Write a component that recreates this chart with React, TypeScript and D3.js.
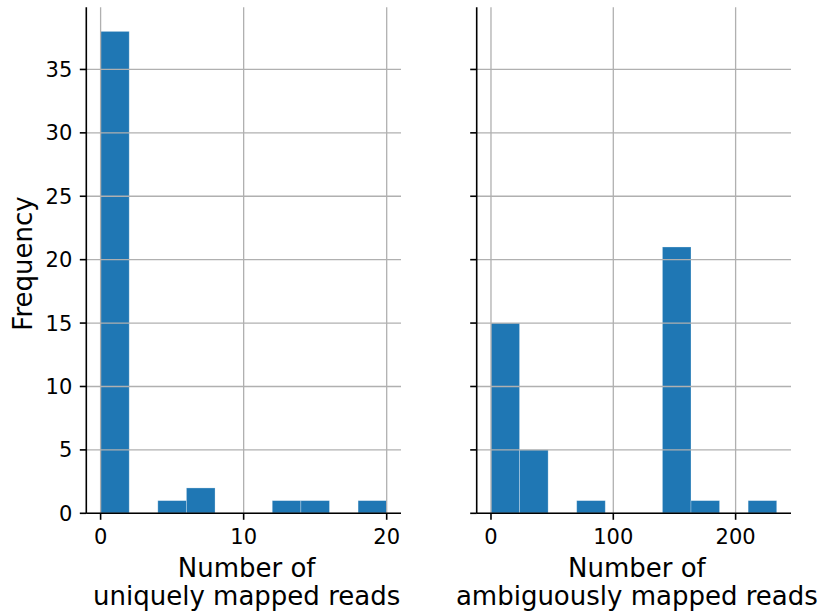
import React from "react";
import * as d3 from "d3";

// Histogram counts per bin (10 equal-width bins each)
const uniqueCounts = [38, 0, 1, 2, 0, 0, 1, 1, 0, 1];
const uniqueRange = [0, 20];
const ambiguousCounts = [15, 5, 0, 1, 0, 0, 21, 1, 0, 1];
const ambiguousRange = [0, 233.6];

const yTicks = [0, 5, 10, 15, 20, 25, 30, 35];
const uniqueTicks = [0, 10, 20];
const ambiguousTicks = [0, 100, 200];

const yLabel = "Frequency";
const uniqueLabel = ["Number of", "uniquely mapped reads"];
const ambiguousLabel = ["Number of", "ambiguously mapped reads"];

const W = 823;
const H = 616;
const TOP = 7.3;
const BOTTOM = 513.3;
const BAR = "#1f77b4";
const GRID = "#b0b0b0";
const FONT = "DejaVu Sans, sans-serif";
const TICK_FS = 21;
const LABEL_FS = 26;

// both panels share one frequency axis
const yMax = (d3.max([...uniqueCounts, ...ambiguousCounts]) as number) * 1.05;
const y = d3.scaleLinear().domain([0, yMax]).range([BOTTOM, TOP]);

type PanelProps = {
  x0: number;
  x1: number;
  counts: number[];
  range: number[];
  ticks: number[];
  label: string[];
  showYLabels: boolean;
};

function Panel({ x0, x1, counts, range, ticks, label, showYLabels }: PanelProps) {
  const span = range[1] - range[0];
  const pad = span * 0.05;
  const x = d3.scaleLinear().domain([range[0] - pad, range[1] + pad]).range([x0, x1]);
  const step = span / counts.length;
  const bins = counts.map((c, i) => ({
    lo: range[0] + i * step,
    hi: range[0] + (i + 1) * step,
    c,
  }));
  const cx = (x0 + x1) / 2 + 3;

  return (
    <g>
      {bins
        .filter((b) => b.c > 0)
        .map((b, i) => (
          <rect
            key={i}
            x={x(b.lo)}
            y={y(b.c)}
            width={x(b.hi) - x(b.lo)}
            height={y(0) - y(b.c)}
            fill={BAR}
            stroke="#ffffff"
            strokeOpacity={0.35}
            strokeWidth={0.8}
          />
        ))}
      {/* grid on top of bars */}
      {yTicks.map((t) => (
        <line key={"gy" + t} x1={x0} x2={x1} y1={y(t)} y2={y(t)} stroke={GRID} strokeWidth={1.3} />
      ))}
      {ticks.map((t) => (
        <line key={"gx" + t} x1={x(t)} x2={x(t)} y1={TOP} y2={BOTTOM} stroke={GRID} strokeWidth={1.3} />
      ))}
      {/* spines */}
      <line x1={x0} x2={x0} y1={TOP} y2={BOTTOM} stroke="#000" strokeWidth={1.6} />
      <line x1={x0} x2={x1} y1={BOTTOM} y2={BOTTOM} stroke="#000" strokeWidth={1.6} />
      {/* y ticks */}
      {yTicks.map((t) => (
        <g key={"ty" + t}>
          <line x1={x0 - 6.5} x2={x0} y1={y(t)} y2={y(t)} stroke="#000" strokeWidth={1.6} />
          {showYLabels && (
            <text
              x={x0 - 14}
              y={y(t)}
              dy="0.36em"
              textAnchor="end"
              fontFamily={FONT}
              fontSize={TICK_FS}
              fill="#000"
            >
              {t}
            </text>
          )}
        </g>
      ))}
      {/* x ticks */}
      {ticks.map((t) => (
        <g key={"tx" + t}>
          <line x1={x(t)} x2={x(t)} y1={BOTTOM} y2={BOTTOM + 6.5} stroke="#000" strokeWidth={1.6} />
          <text x={x(t)} y={BOTTOM + 31} textAnchor="middle" fontFamily={FONT} fontSize={TICK_FS} fill="#000">
            {t}
          </text>
        </g>
      ))}
      {label.map((l, i) => (
        <text
          key={"l" + i}
          x={cx}
          y={577 + i * 27.5}
          textAnchor="middle"
          fontFamily={FONT}
          fontSize={LABEL_FS}
          fill="#000"
        >
          {l}
        </text>
      ))}
    </g>
  );
}

export default function App() {
  return (
    <svg
      width={W}
      height={H}
      style={{ position: "absolute", left: 0, top: 0, background: "#fff" }}
    >
      <rect width={W} height={H} fill="#fff" />
      <Panel
        x0={86.3}
        x1={401}
        counts={uniqueCounts}
        range={uniqueRange}
        ticks={uniqueTicks}
        label={uniqueLabel}
        showYLabels={true}
      />
      <Panel
        x0={476.7}
        x1={791}
        counts={ambiguousCounts}
        range={ambiguousRange}
        ticks={ambiguousTicks}
        label={ambiguousLabel}
        showYLabels={false}
      />
      <text
        transform="translate(32,263.5) rotate(-90)"
        textAnchor="middle"
        fontFamily={FONT}
        fontSize={LABEL_FS}
        fill="#000"
      >
        {yLabel}
      </text>
    </svg>
  );
}
